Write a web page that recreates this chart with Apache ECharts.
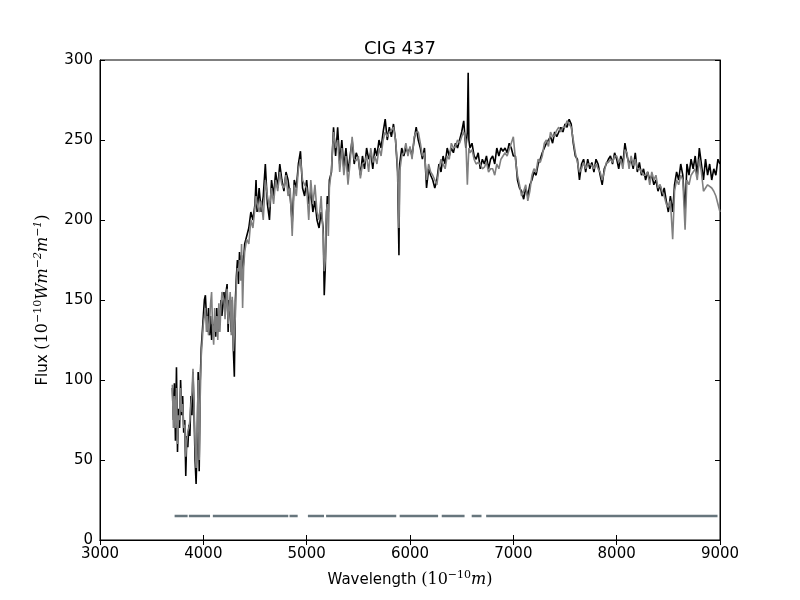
<!DOCTYPE html>
<html>
<head>
<meta charset="utf-8">
<script src="https://cdn.jsdelivr.net/npm/echarts@6/dist/echarts.min.js"></script>
<style>
  html, body { margin: 0; padding: 0; background: #fff; }
  #chart { width: 800px; height: 600px; }
</style>
</head>
<body>
<div id="chart"></div>
<script>
// wavelength grid (Angstrom) and fluxes
const wavelength = [
  3700,3710,3720,3730,3740,3750,3760,3770,3780,3790,3800,3810,3820,3830,3840,3850,3860,3870,3880,3890,
  3900,3910,3920,3930,3940,3950,3960,3970,3980,3990,4000,4010,4020,4030,4040,4050,4060,4070,4080,4090,
  4100,4110,4120,4130,4140,4150,4160,4170,4180,4200,4210,4220,4230,4240,4250,4260,4270,4280,4290,4300,
  4310,4320,4330,4340,4350,4360,4370,4380,4390,4400,4420,4440,4460,4480,4500,4510,4520,4540,4560,4580,
  4600,4620,4640,4660,4680,4700,4720,4740,4760,4780,4800,4820,4840,4860,4880,4900,4920,4940,4960,4980,
  5000,5020,5040,5060,5080,5100,5120,5140,5160,5170,5180,5190,5200,5210,5220,5240,5260,5280,5300,5320,
  5340,5360,5380,5400,5420,5440,5460,5480,5500,5520,5540,5560,5580,5600,5620,5640,5660,5680,5700,5720,
  5740,5760,5780,5800,5820,5840,5860,5870,5880,5893,5900,5920,5940,5960,5980,6000,6020,6040,6060,6080,
  6100,6120,6140,6160,6180,6200,6220,6240,6260,6280,6300,6320,6340,6360,6380,6400,6420,6440,6460,6480,
  6500,6520,6540,6555,6563,6570,6580,6600,6620,6640,6660,6680,6700,6720,6740,6760,6780,6800,6820,6840,
  6860,6880,6900,6920,6940,6960,6980,7000,7020,7040,7060,7080,7100,7120,7140,7160,7180,7200,7220,7240,
  7260,7280,7300,7320,7340,7360,7380,7400,7420,7440,7460,7480,7500,7520,7540,7560,7580,7600,7620,7640,
  7660,7680,7700,7720,7740,7760,7780,7800,7820,7840,7860,7880,7900,7920,7940,7960,7980,8000,8020,8040,
  8060,8080,8100,8120,8140,8160,8180,8200,8220,8240,8260,8280,8300,8320,8340,8360,8380,8400,8420,8440,
  8460,8480,8500,8520,8542,8560,8580,8600,8620,8640,8662,8680,8700,8720,8740,8760,8780,8800,8820,8840,
  8860,8880,8900,8920,8940,8960,8980,9000
];
const observed = [
  95,75,98,62,108,55,82,70,100,78,90,67,75,40,65,58,72,65,90,78,
  105,80,50,35,60,105,43,100,120,130,140,150,153,140,130,145,128,140,125,135,
  130,138,127,145,130,142,135,150,140,155,140,155,160,130,150,145,130,150,120,102,
  150,165,175,160,180,170,178,165,175,185,190,195,205,200,210,225,205,220,205,215,
  235,210,200,225,215,230,220,235,225,218,230,225,215,198,225,220,235,243,220,215,
  225,210,218,205,212,200,195,205,195,153,170,200,215,205,225,230,258,240,258,235,
  250,232,245,230,240,250,235,242,238,228,240,232,245,238,242,232,245,240,250,245,
  255,263,250,258,252,260,250,240,230,178,235,245,240,245,242,245,240,250,258,250,
  245,238,245,220,232,228,225,220,225,235,230,240,235,245,240,245,242,248,245,250,
  255,262,245,255,292,250,245,248,240,238,242,232,238,235,240,232,238,240,235,245,
  240,245,243,245,242,248,245,240,240,225,220,218,213,220,215,222,225,230,228,235,
  238,242,245,248,250,252,248,255,252,255,258,255,260,258,263,260,248,240,238,225,
  235,238,230,238,232,236,230,238,235,228,222,232,235,238,240,235,242,238,232,240,
  235,248,240,235,238,232,242,230,236,228,232,225,230,225,228,222,225,218,222,215,
  220,212,205,215,205,222,230,225,235,228,205,235,228,238,232,240,228,245,235,225,
  238,228,235,225,232,228,238,235
];
const model = [
  97,70,90,70,95,60,78,75,95,80,85,70,72,52,62,68,70,75,85,92,
  107,85,60,45,65,100,50,90,115,125,135,140,145,130,140,128,135,148,155,132,
  122,145,130,140,125,148,130,145,155,150,138,150,157,135,145,155,128,152,118,118,
  140,160,170,168,175,162,185,145,170,180,188,185,200,195,208,215,210,205,212,200,
  225,215,208,220,210,225,218,230,222,220,228,215,220,190,222,215,232,238,225,222,
  220,200,225,210,222,205,200,215,190,168,175,205,210,190,220,232,255,245,250,230,
  245,228,240,222,236,252,238,237,240,226,235,236,240,230,245,236,240,235,245,240,
  250,255,252,255,256,258,250,242,232,195,230,240,242,248,240,246,238,252,255,255,
  248,240,242,225,235,230,228,225,222,232,238,235,232,240,238,248,245,246,250,248,
  252,255,250,222,235,245,242,244,238,235,236,235,232,233,236,230,232,232,228,235,
  232,238,240,242,240,244,248,252,238,228,222,215,218,222,212,218,228,232,230,238,
  236,240,248,250,246,255,252,253,256,258,255,258,258,262,260,258,250,242,236,230,
  232,236,232,235,235,234,232,235,232,230,225,230,236,236,238,236,240,240,236,238,
  232,244,242,232,240,234,238,232,232,230,228,228,230,222,230,225,228,220,222,218,
  215,210,208,212,188,218,225,222,228,225,194,225,222,228,230,232,225,238,230,218,
  220,222,221,220,218,215,210,205
];
// fitted-region mask, drawn at a constant level
const maskStart = [3722, 3860, 4092, 4834, 5012, 5188, 5900, 6307, 6597, 6737];
const maskEnd   = [3848, 4065, 4822, 4913, 5168, 5867, 6272, 6528, 6692, 8976];
const maskLevel = 15;

const xTicks = { min: 3000, max: 9000, interval: 1000 };
const yTicks = { min: 0, max: 300, interval: 50 };

const obsData = wavelength.map((w, i) => [w, observed[i]]);
const modData = wavelength.map((w, i) => [w, model[i]]);
const maskData = [];
maskStart.forEach((s, i) => {
  if (i > 0) maskData.push([s, '-']);
  maskData.push([s, maskLevel]);
  maskData.push([maskEnd[i], maskLevel]);
});

const chart = echarts.init(document.getElementById('chart'));

const baseAxis = {
  axisLine: { show: true, lineStyle: { color: '#000', width: 1 } },
  axisTick: { show: true, inside: true, length: 5, lineStyle: { color: '#000' } },
  splitLine: { show: false },
  axisLabel: { color: '#000', fontSize: 15, fontFamily: 'DejaVu Sans', formatter: v => String(v) }
};

const mathRich = {
  t: { fontFamily: 'DejaVu Sans', fontSize: 15, color: '#000', lineHeight: 24 },
  m: { fontFamily: 'DejaVu Serif', fontSize: 16, color: '#000', lineHeight: 24 },
  i: { fontFamily: 'DejaVu Serif', fontStyle: 'italic', fontSize: 16, color: '#000', lineHeight: 24 },
  s: { fontFamily: 'DejaVu Serif', fontStyle: 'italic', fontSize: 11, color: '#000', lineHeight: 24, padding: [0, 0, 10, 0] },
  n: { fontFamily: 'DejaVu Serif', fontSize: 11, color: '#000', lineHeight: 24, padding: [0, 0, 10, 0] }
};

const option = {
  animation: false,
  backgroundColor: '#fff',
  title: {
    text: 'CIG 437',
    left: 'center',
    top: 35,
    textStyle: { fontFamily: 'DejaVu Sans', fontSize: 18, fontWeight: 'normal', color: '#000' }
  },
  grid: { left: 100, right: 80, top: 60, bottom: 60, show: true, borderColor: '#000', borderWidth: 1 },
  xAxis: [
    Object.assign({}, baseAxis, {
      type: 'value', position: 'bottom', ...xTicks,
      axisLabel: Object.assign({}, baseAxis.axisLabel, { margin: 7 }),
      name: '{t|Wavelength }{m|(10}{n|−10}{i|m}{m|)}',
      nameLocation: 'middle', nameGap: 28,
      nameTextStyle: { rich: mathRich }
    }),
    Object.assign({}, baseAxis, {
      type: 'value', position: 'top', ...xTicks,
      axisLabel: { show: false }
    })
  ],
  yAxis: [
    Object.assign({}, baseAxis, {
      type: 'value', position: 'left', ...yTicks,
      axisLabel: Object.assign({}, baseAxis.axisLabel, { margin: 7 }),
      name: '{t|Flux }{m|(10}{n|−10}{i|Wm}{s|−2}{i|m}{s|−1}{m|)}',
      nameLocation: 'middle', nameGap: 43, nameRotate: 90,
      nameTextStyle: { rich: mathRich }
    }),
    Object.assign({}, baseAxis, {
      type: 'value', position: 'right', ...yTicks,
      axisLabel: { show: false }
    })
  ],
  series: [
    {
      name: 'observed', type: 'line', data: obsData,
      showSymbol: false, lineStyle: { color: '#000', width: 1.6 }, z: 2
    },
    {
      name: 'model', type: 'line', data: modData,
      showSymbol: false, lineStyle: { color: '#808080', width: 1.6 }, z: 3
    },
    {
      name: 'mask', type: 'line', data: maskData, connectNulls: false,
      showSymbol: false, lineStyle: { color: '#67767d', width: 2.5 }, z: 4
    }
  ]
};

chart.setOption(option);
</script>
</body>
</html>
